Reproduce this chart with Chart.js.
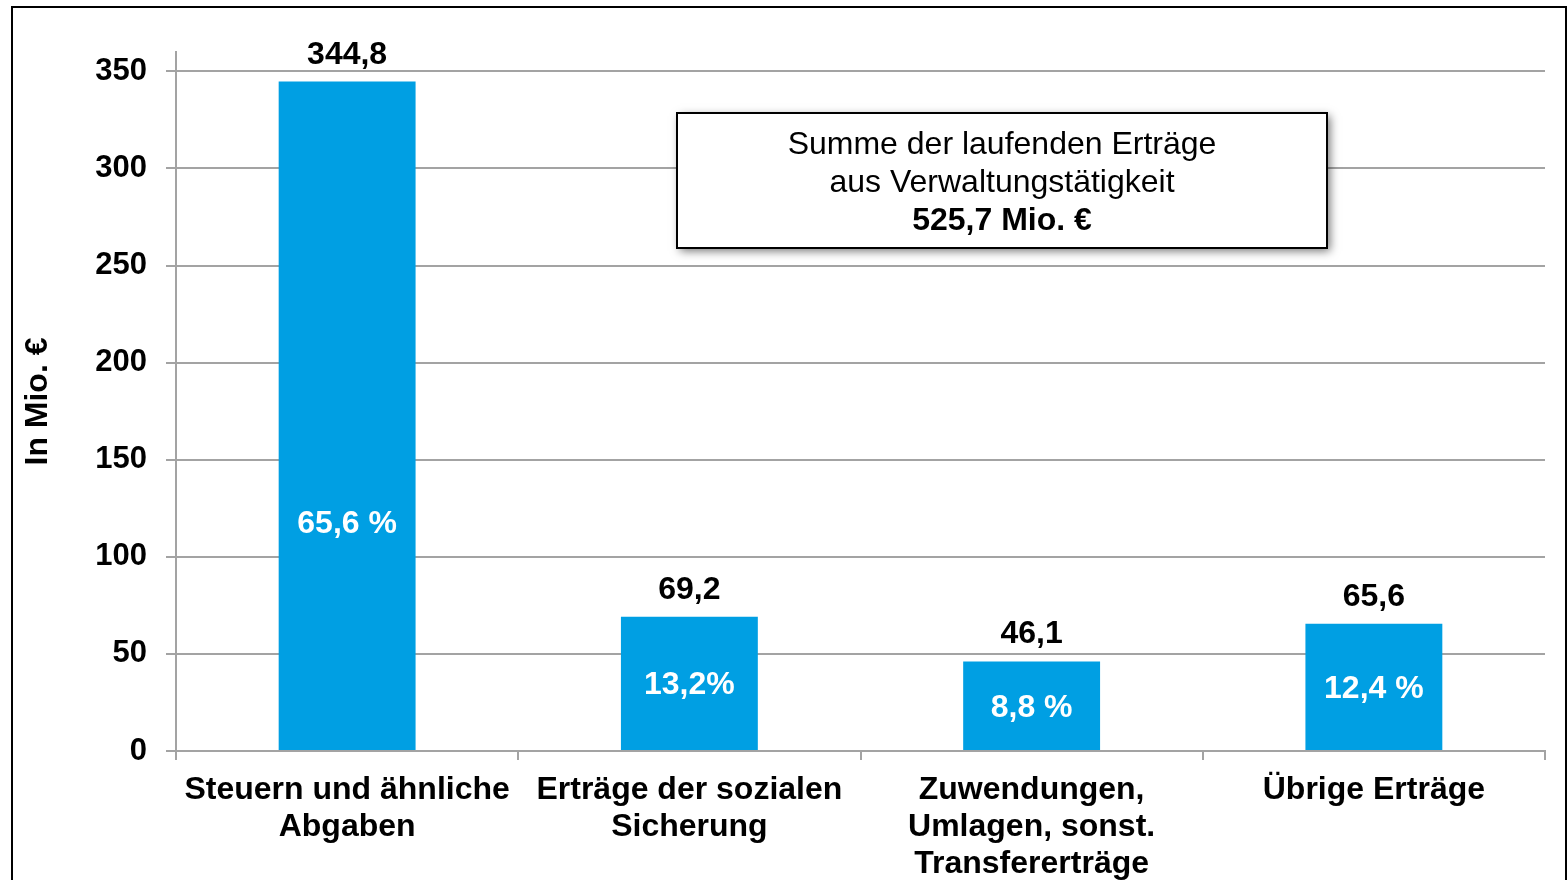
<!DOCTYPE html>
<html>
<head>
<meta charset="utf-8">
<script src="https://cdn.jsdelivr.net/npm/chart.js@4"></script>
<style>
  html, body { margin: 0; padding: 0; background: #fff; overflow: hidden; }
  canvas { display: block; }
</style>
</head>
<body>
<canvas id="myChart" width="1568" height="880"></canvas>
<script>
const categories = [
    ['Steuern und ähnliche', 'Abgaben'],
    ['Erträge der sozialen', 'Sicherung'],
    ['Zuwendungen,', 'Umlagen, sonst.', 'Transfererträge'],
    ['Übrige Erträge'],
];

const values = [344.8, 69.2, 46.1, 65.6];

const shares = ['65,6 %', '13,2%', '8,8 %', '12,4 %'];

const yTicks = [0, 50, 100, 150, 200, 250, 300, 350];

const boxLines = ['Summe der laufenden Erträge', 'aus Verwaltungstätigkeit', '525,7 Mio. €'];

const FONT = '"Liberation Sans", Arial, sans-serif';
const GRID = '#a3a3a3';

// Werte über den Balken, Anteile in den Balken
const labelPlugin = {
    id: 'barLabels',
    afterDatasetsDraw(chart) {
        const ctx = chart.ctx;
        const meta = chart.getDatasetMeta(0);
        ctx.save();
        ctx.textAlign = 'center';
        ctx.font = 'bold 32px ' + FONT;
        meta.data.forEach((bar, i) => {
            ctx.fillStyle = '#000';
            ctx.textBaseline = 'alphabetic';
            ctx.fillText(values[i].toFixed(1).replace('.', ','), bar.x, bar.y - 18);
            ctx.fillStyle = '#fff';
            ctx.textBaseline = 'middle';
            const mid = Math.max((bar.y + bar.base) / 2, bar.base - 228);
            ctx.fillText(shares[i], bar.x, mid + 2);
        });
        ctx.restore();
    }
};

// Textkasten mit Summe + Rahmen um die Grafik
const boxPlugin = {
    id: 'sumBox',
    afterDraw(chart) {
        const ctx = chart.ctx;
        const a = chart.chartArea;
        const x = a.left + 501, y = a.top + 61, w = 650, h = 135;
        ctx.save();
        ctx.shadowColor = 'rgba(0,0,0,0.55)';
        ctx.shadowBlur = 9;
        ctx.shadowOffsetX = 3;
        ctx.shadowOffsetY = 3;
        ctx.fillStyle = '#fff';
        ctx.fillRect(x, y, w, h);
        ctx.shadowColor = 'transparent';
        ctx.strokeStyle = '#000';
        ctx.lineWidth = 2;
        ctx.strokeRect(x, y, w, h);
        ctx.fillStyle = '#000';
        ctx.textAlign = 'center';
        ctx.textBaseline = 'middle';
        boxLines.forEach((t, i) => {
            ctx.font = (i === 2 ? 'bold ' : '') + '32px ' + FONT;
            ctx.fillText(t, x + w / 2, y + 32 + i * 38);
        });
        ctx.strokeRect(12, 7, 1554, 900);
        ctx.restore();
    }
};

const data = {
    labels: categories,
    datasets: [{
        data: values,
        backgroundColor: '#009fe3',
        borderWidth: 0,
        barPercentage: 0.4,
        categoryPercentage: 1,
    }]
};

const config = {
    type: 'bar',
    data: data,
    options: {
        responsive: false,
        animation: false,
        layout: { padding: { top: 52, right: 23, left: 0, bottom: 0 } },
        plugins: {
            legend: { display: false },
            tooltip: { enabled: false },
        },
        scales: {
            x: {
                afterFit: (s) => { s.height = 129; },
                border: { color: GRID, width: 2 },
                grid: { drawOnChartArea: false, drawTicks: true, tickLength: 9, color: GRID, lineWidth: 2 },
                ticks: {
                    autoSkip: false,
                    maxRotation: 0,
                    padding: 12,
                    color: '#000',
                    font: { family: FONT, size: 32, weight: 'bold', lineHeight: 1.15 },
                },
            },
            y: {
                min: 0,
                max: 360,
                afterFit: (s) => { s.width = 176; },
                afterBuildTicks: (s) => { s.ticks = yTicks.map(v => ({ value: v })); },
                border: { color: GRID, width: 2 },
                grid: { color: GRID, lineWidth: 2, tickLength: 10 },
                ticks: {
                    padding: 19,
                    color: '#000',
                    font: { family: FONT, size: 31, weight: 'bold' },
                },
                title: {
                    display: true,
                    text: 'In Mio. €',
                    color: '#000',
                    padding: { top: 19, bottom: 0 },
                    font: { family: FONT, size: 32, weight: 'bold', lineHeight: 1.2 },
                },
            }
        }
    },
    plugins: [labelPlugin, boxPlugin]
};

new Chart(
    document.getElementById('myChart'),
    config
);
</script>
</body>
</html>
